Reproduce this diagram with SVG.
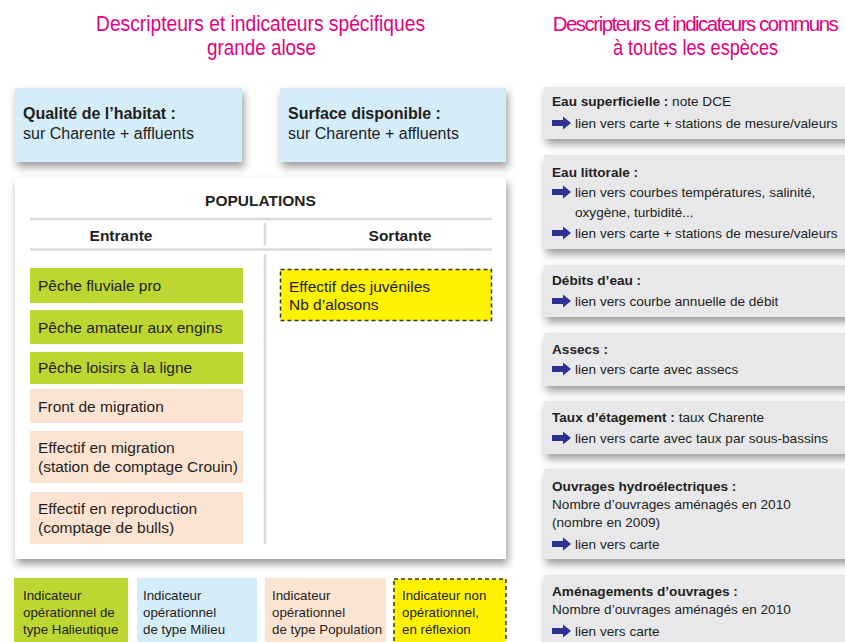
<svg xmlns="http://www.w3.org/2000/svg" xmlns:xlink="http://www.w3.org/1999/xlink" width="845" height="642" viewBox="0 0 845 642">
<defs>
<filter id="sh" x="-10%" y="-20%" width="125%" height="150%">
<feDropShadow dx="2" dy="5" stdDeviation="4" flood-color="#000" flood-opacity="0.4"/>
</filter>
<path id="arr" d="M0,-3 H11 V-6.5 L19,0 L11,6.5 V3 H0 Z" fill="#2e3192"/>
<style>
text{font-family:"Liberation Sans",Arial,sans-serif;fill:#231f20}
.title{font-size:22px;fill:#e6007e;text-anchor:middle}
.hb{font-size:16px;font-weight:bold}
.hr{font-size:16px}
.cell{font-size:15.5px}
.head{font-size:15.5px;font-weight:bold;text-anchor:middle}
.leg{font-size:13.3px}
.card{font-size:13.6px}
.b{font-weight:bold}
.blue{fill:#d5ecf9}
.green{fill:#bdd631}
.peach{fill:#fde3d2}
.yellow{fill:#fff200;stroke:#333;stroke-width:1.5;stroke-dasharray:4 3}
.gray{fill:#e8e8ea}
.div{stroke:#dadada;stroke-width:2.5;fill:none}
</style>
</defs>
<rect width="845" height="642" fill="#ffffff"/>

<g id="titles">
<text class="title" x="260.5" y="31" textLength="329" lengthAdjust="spacingAndGlyphs">Descripteurs et indicateurs spécifiques</text>
<text class="title" x="261.5" y="55" textLength="109" lengthAdjust="spacingAndGlyphs">grande alose</text>
<text class="title" x="695" y="31" style="font-size:20.5px;letter-spacing:-1.5px">Descripteurs et indicateurs communs</text>
<text class="title" x="695.5" y="55" textLength="165" lengthAdjust="spacingAndGlyphs">à toutes les espèces</text>
</g>

<g id="qualite-habitat">
<rect class="blue" x="15" y="88" width="227" height="74" filter="url(#sh)"/>
<text class="hb" x="23" y="119">Qualité de l’habitat :</text>
<text class="hr" x="23" y="139">sur Charente + affluents</text>
</g>
<g id="surface-disponible">
<rect class="blue" x="280" y="88" width="226" height="74" filter="url(#sh)"/>
<text class="hb" x="288" y="119">Surface disponible :</text>
<text class="hr" x="288" y="139">sur Charente + affluents</text>
</g>

<g id="populations">
<rect x="15" y="178" width="491" height="381" fill="#ffffff" filter="url(#sh)"/>
<text class="head" x="260.5" y="206">POPULATIONS</text>
<path class="div" d="M30,219 H492 M30,249.5 H492 M265,223 V245 M265,254 V544"/>
<text class="head" x="121" y="241">Entrante</text>
<text class="head" x="400" y="241">Sortante</text>
</g>

<g id="peche-fluviale">
<rect class="green" x="30" y="268" width="213" height="35"/>
<text class="cell" x="38" y="291">Pêche fluviale pro</text>
</g>
<g id="peche-amateur">
<rect class="green" x="30" y="310" width="213" height="34"/>
<text class="cell" x="38" y="333">Pêche amateur aux engins</text>
</g>
<g id="peche-loisirs">
<rect class="green" x="30" y="352" width="213" height="32"/>
<text class="cell" x="38" y="373">Pêche loisirs à la ligne</text>
</g>
<g id="front-migration">
<rect class="peach" x="30" y="389" width="213" height="34"/>
<text class="cell" x="38" y="412">Front de migration</text>
</g>
<g id="effectif-migration">
<rect class="peach" x="30" y="431" width="213" height="52"/>
<text class="cell" x="38" y="453">Effectif en migration</text>
<text class="cell" x="38" y="472">(station de comptage Crouin)</text>
</g>
<g id="effectif-reproduction">
<rect class="peach" x="30" y="492" width="213" height="52"/>
<text class="cell" x="38" y="514">Effectif en reproduction</text>
<text class="cell" x="38" y="533">(comptage de bulls)</text>
</g>
<g id="effectif-juveniles">
<rect class="yellow" x="280.5" y="269.5" width="211" height="51"/>
<text class="cell" x="289" y="292">Effectif des juvéniles</text>
<text class="cell" x="289" y="310">Nb d’alosons</text>
</g>

<g id="legende-halieutique">
<rect class="green" x="14" y="578" width="114" height="64"/>
<text class="leg" x="23" y="600">Indicateur</text>
<text class="leg" x="23" y="617">opérationnel de</text>
<text class="leg" x="23" y="634">type Halieutique</text>
</g>
<g id="legende-milieu">
<rect class="blue" x="137" y="578" width="120" height="64"/>
<text class="leg" x="143" y="600">Indicateur</text>
<text class="leg" x="143" y="617">opérationnel</text>
<text class="leg" x="143" y="634">de type Milieu</text>
</g>
<g id="legende-population">
<rect class="peach" x="265" y="578" width="121" height="64"/>
<text class="leg" x="272" y="600">Indicateur</text>
<text class="leg" x="272" y="617">opérationnel</text>
<text class="leg" x="272" y="634">de type Population</text>
</g>
<g id="legende-non-operationnel">
<rect class="yellow" x="394" y="579" width="112" height="66"/>
<text class="leg" x="402" y="600">Indicateur non</text>
<text class="leg" x="402" y="617">opérationnel,</text>
<text class="leg" x="402" y="634">en réflexion</text>
</g>

<g id="eau-superficielle">
<rect class="gray" x="544" y="87" width="310" height="52" filter="url(#sh)"/>
<text class="card" x="552" y="106"><tspan class="b">Eau superficielle :</tspan> note DCE</text>
<use xlink:href="#arr" x="552" y="123"/>
<text class="card" x="575" y="128">lien vers carte + stations de mesure/valeurs</text>
</g>
<g id="eau-littorale">
<rect class="gray" x="544" y="155" width="310" height="94" filter="url(#sh)"/>
<text class="card b" x="552" y="177">Eau littorale :</text>
<use xlink:href="#arr" x="552" y="192"/>
<text class="card" x="575" y="197">lien vers courbes températures, salinité,</text>
<text class="card" x="575" y="217">oxygène, turbidité...</text>
<use xlink:href="#arr" x="552" y="233"/>
<text class="card" x="575" y="238">lien vers carte + stations de mesure/valeurs</text>
</g>
<g id="debits-eau">
<rect class="gray" x="544" y="265" width="310" height="52" filter="url(#sh)"/>
<text class="card b" x="552" y="285">Débits d’eau :</text>
<use xlink:href="#arr" x="552" y="301"/>
<text class="card" x="575" y="306">lien vers courbe annuelle de débit</text>
</g>
<g id="assecs">
<rect class="gray" x="544" y="333" width="310" height="53" filter="url(#sh)"/>
<text class="card b" x="552" y="354">Assecs :</text>
<use xlink:href="#arr" x="552" y="369"/>
<text class="card" x="575" y="374">lien vers carte avec assecs</text>
</g>
<g id="taux-etagement">
<rect class="gray" x="544" y="401" width="310" height="53" filter="url(#sh)"/>
<text class="card" x="552" y="422"><tspan class="b">Taux d’étagement :</tspan> taux Charente</text>
<use xlink:href="#arr" x="552" y="438"/>
<text class="card" x="575" y="443">lien vers carte avec taux par sous-bassins</text>
</g>
<g id="ouvrages-hydroelectriques">
<rect class="gray" x="544" y="469" width="310" height="90" filter="url(#sh)"/>
<text class="card b" x="552" y="491">Ouvrages hydroélectriques :</text>
<text class="card" x="552" y="509">Nombre d’ouvrages aménagés en 2010</text>
<text class="card" x="552" y="527">(nombre en 2009)</text>
<use xlink:href="#arr" x="552" y="544"/>
<text class="card" x="575" y="549">lien vers carte</text>
</g>
<g id="amenagements-ouvrages">
<rect class="gray" x="544" y="575" width="310" height="80" filter="url(#sh)"/>
<text class="card b" x="552" y="596">Aménagements d’ouvrages :</text>
<text class="card" x="552" y="614">Nombre d’ouvrages aménagés en 2010</text>
<use xlink:href="#arr" x="552" y="631"/>
<text class="card" x="575" y="636">lien vers carte</text>
</g>
</svg>
